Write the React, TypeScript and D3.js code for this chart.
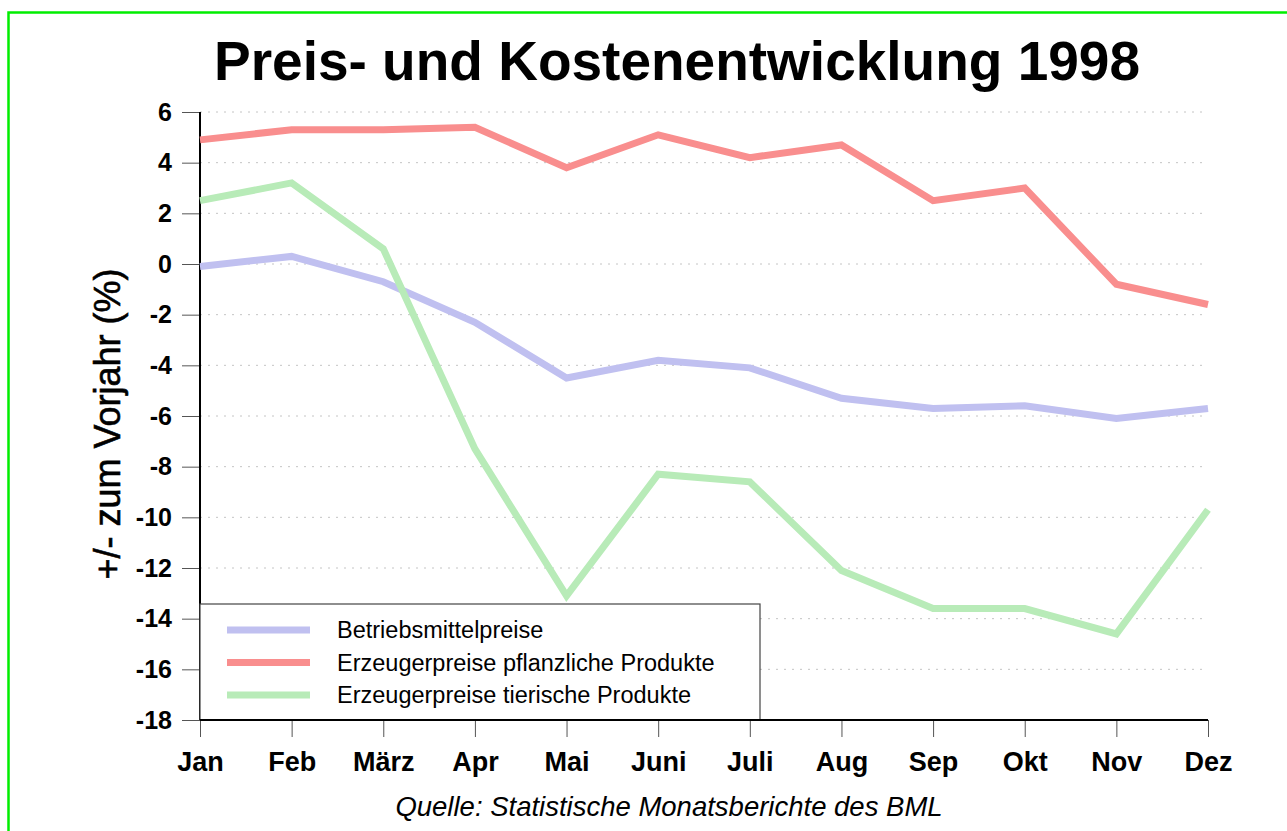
import React, { useEffect, useRef } from 'react';
import * as d3 from 'd3';

const months = ['Jan', 'Feb', 'März', 'Apr', 'Mai', 'Juni', 'Juli', 'Aug', 'Sep', 'Okt', 'Nov', 'Dez'];
const betriebsmittel = [-0.1, 0.3, -0.7, -2.3, -4.5, -3.8, -4.1, -5.3, -5.7, -5.6, -6.1, -5.7];
const pflanzlich = [4.9, 5.3, 5.3, 5.4, 3.8, 5.1, 4.2, 4.7, 2.5, 3.0, -0.8, -1.6];
const tierisch = [2.5, 3.2, 0.6, -7.3, -13.1, -8.3, -8.6, -12.1, -13.6, -13.6, -14.6, -9.7];
const yTicks = [6, 4, 2, 0, -2, -4, -6, -8, -10, -12, -14, -16, -18];

const seriesNames = ['Betriebsmittelpreise', 'Erzeugerpreise pflanzliche Produkte', 'Erzeugerpreise tierische Produkte'];
const seriesColors = ['#c0c0f0', '#f98e8e', '#b8ebb8'];

const App = () => {
  const ref = useRef<SVGSVGElement | null>(null);

  useEffect(() => {
    const el = ref.current;
    if (!el) return;
    const svg = d3.select(el);
    svg.selectAll('*').remove();

    const font = 'Liberation Sans, Arial, sans-serif';
    const left = 200;
    const right = 1208;
    const top = 112;
    const bottom = 720;

    const x = d3.scalePoint<string>().domain(months).range([left, right]);
    const y = d3.scaleLinear().domain([-18, 6]).range([bottom, top]);

    // green frame, runs off the right and bottom edge
    svg
      .append('rect')
      .attr('x', 8.5)
      .attr('y', 12.5)
      .attr('width', 2000)
      .attr('height', 2000)
      .attr('fill', 'none')
      .attr('stroke', '#00ee00')
      .attr('stroke-width', 2.5);

    svg
      .append('text')
      .attr('x', 677)
      .attr('y', 80)
      .attr('text-anchor', 'middle')
      .style('font-family', font)
      .style('font-weight', 'bold')
      .style('font-size', '55px')
      .text('Preis- und Kostenentwicklung 1998');

    // dotted grid
    svg
      .append('g')
      .selectAll('line')
      .data(yTicks.filter((d) => d !== -18))
      .enter()
      .append('line')
      .attr('x1', left)
      .attr('x2', right)
      .attr('y1', (d) => y(d))
      .attr('y2', (d) => y(d))
      .attr('stroke', '#c4c4c4')
      .attr('stroke-width', 1)
      .attr('stroke-dasharray', '2,6');

    // y axis
    const yAxis = svg
      .append('g')
      .attr('transform', `translate(${left},0)`)
      .call(d3.axisLeft(y).tickValues(yTicks).tickSize(18).tickPadding(10).tickFormat(d3.format('d')));
    yAxis.select('.domain').remove();
    yAxis.selectAll('line').attr('stroke', '#555');
    yAxis
      .selectAll('text')
      .attr('fill', '#000')
      .style('font-family', font)
      .style('font-weight', 'bold')
      .style('font-size', '25px')
      .text((d: any) => String(d));

    // x axis
    const xAxis = svg
      .append('g')
      .attr('transform', `translate(0,${bottom})`)
      .call(d3.axisBottom(x).tickSize(17).tickPadding(15));
    xAxis.select('.domain').remove();
    xAxis.selectAll('line').attr('stroke', '#555');
    xAxis
      .selectAll('text')
      .attr('fill', '#000')
      .style('font-family', font)
      .style('font-weight', 'bold')
      .style('font-size', '27px');

    svg
      .append('line')
      .attr('x1', left)
      .attr('x2', left)
      .attr('y1', top)
      .attr('y2', bottom)
      .attr('stroke', '#000')
      .attr('stroke-width', 2);

    svg
      .append('text')
      .attr('transform', `translate(120,424) rotate(-90)`)
      .attr('text-anchor', 'middle')
      .style('font-family', font)
      .style('font-size', '36px')
      .attr('stroke', '#000')
      .attr('stroke-width', 0.6)
      .text('+/- zum Vorjahr (%)');

    const line = d3
      .line<number>()
      .x((_, i) => x(months[i]) as number)
      .y((d) => y(d));

    [betriebsmittel, pflanzlich, tierisch].forEach((values, i) => {
      svg
        .append('path')
        .attr('d', line(values))
        .attr('fill', 'none')
        .attr('stroke', seriesColors[i])
        .attr('stroke-width', 7)
        .attr('stroke-linejoin', 'miter');
    });

    // legend
    const legend = svg.append('g');
    legend
      .append('rect')
      .attr('x', left)
      .attr('y', 604)
      .attr('width', 560)
      .attr('height', bottom - 604)
      .attr('fill', '#fff')
      .attr('stroke', '#444')
      .attr('stroke-width', 1.2);
    seriesNames.forEach((name, i) => {
      const ly = 630 + i * 32.5;
      legend
        .append('line')
        .attr('x1', 227)
        .attr('x2', 310)
        .attr('y1', ly)
        .attr('y2', ly)
        .attr('stroke', seriesColors[i])
        .attr('stroke-width', 7);
      legend
        .append('text')
        .attr('x', 337)
        .attr('y', ly + 8)
        .style('font-family', font)
        .style('font-size', '23.5px')
        .text(name);
    });

    svg
      .append('line')
      .attr('x1', left)
      .attr('x2', right)
      .attr('y1', bottom)
      .attr('y2', bottom)
      .attr('stroke', '#000')
      .attr('stroke-width', 2);

    svg
      .append('text')
      .attr('x', 669)
      .attr('y', 816)
      .attr('text-anchor', 'middle')
      .style('font-family', font)
      .style('font-style', 'italic')
      .style('font-size', '27.5px')
      .text('Quelle: Statistische Monatsberichte des BML');
  }, []);

  return (
    <svg
      ref={ref}
      width={1287}
      height={831}
      style={{ position: 'fixed', left: 0, top: 0, background: '#fff' }}
    />
  );
};

export default App;
